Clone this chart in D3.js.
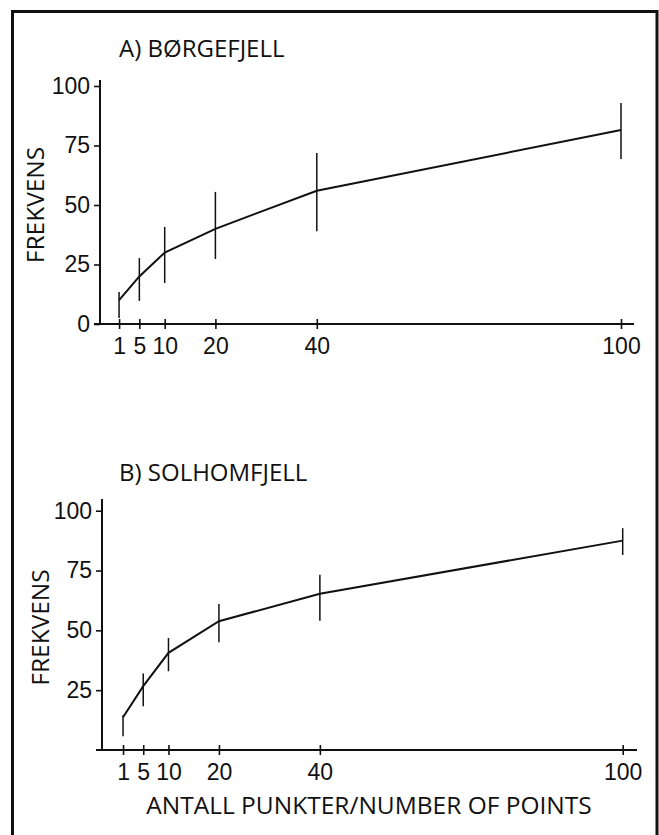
<!DOCTYPE html>
<html>
<head>
<meta charset="utf-8">
<script src="https://cdn.jsdelivr.net/npm/d3@7.9.0/dist/d3.min.js"></script>
<style>
  html, body { margin: 0; padding: 0; background: #fff; }
  svg { display: block; font-family: "Open Sans", sans-serif; }
  .axis text { font-size: 23px; fill: #111; }
  .axis line { stroke: #111; stroke-width: 1.6; }
</style>
</head>
<body>
<div id="chart"></div>
<script>
// Number of points (x) shared by both panels
const points = [1, 5, 10, 20, 40, 100];

// A) Børgefjell: mean frequency and error bar ends
const borgMean = [10, 20, 30, 40, 56, 81.5];
const borgLow = [2.5, 9.7, 17.2, 27.3, 39, 69.3];
const borgHigh = [13.4, 27.7, 40.8, 55.5, 71.8, 92.9];

// B) Solhomfjell
const solhMean = [13.7, 26.7, 40.6, 53.8, 65.3, 87.5];
const solhLow = [5.7, 18.3, 32.9, 45, 54, 81.5];
const solhHigh = [14.5, 32, 46.8, 61, 73.2, 92.7];

const yTicksA = [0, 25, 50, 75, 100];
const yTicksB = [25, 50, 75, 100];
const titles = ["A) BØRGEFJELL", "B) SOLHOMFJELL"];
const yLabel = "FREKVENS";
const xLabel = "ANTALL PUNKTER/NUMBER OF POINTS";

const width = 659;
const height = 835;

const svg = d3
  .select("#chart")
  .append("svg")
  .attr("width", width)
  .attr("height", height);

// frame, open at the bottom like the scanned page
svg
  .append("path")
  .attr("d", "M12.5,835 V11.5 H657 V835")
  .attr("fill", "none")
  .attr("stroke", "#111")
  .attr("stroke-width", 3);

const panels = [
  {
    title: titles[0],
    mean: borgMean, low: borgLow, high: borgHigh,
    yTicks: yTicksA,
    x: [114, 621], y: [324, 86],
    axisX: 100, axisTop: 80, axisRight: 634,
    titleY: 57, yLabelX: 44,
  },
  {
    title: titles[1],
    mean: solhMean, low: solhLow, high: solhHigh,
    yTicks: yTicksB,
    x: [118, 622.7], y: [750, 510.7],
    axisX: 102, axisTop: 499, axisRight: 637,
    titleY: 481, yLabelX: 49,
  },
];

panels.forEach((p) => {
  const xScale = d3.scaleLinear().domain([0, 100]).range(p.x);
  const yScale = d3.scaleLinear().domain([0, 100]).range(p.y);
  const base = p.y[0];
  const g = svg.append("g");

  // axis lines
  g.append("line")
    .attr("x1", p.axisX).attr("x2", p.axisX)
    .attr("y1", p.axisTop).attr("y2", base)
    .attr("stroke", "#111").attr("stroke-width", 2);
  g.append("line")
    .attr("x1", p.axisX - 6).attr("x2", p.axisRight)
    .attr("y1", base).attr("y2", base)
    .attr("stroke", "#111").attr("stroke-width", 2);

  // y axis ticks + labels
  const yAxis = g
    .append("g")
    .attr("class", "axis")
    .attr("transform", `translate(${p.axisX},0)`)
    .call(d3.axisLeft(yScale).tickValues(p.yTicks).tickSize(6).tickPadding(4).tickSizeOuter(0));
  yAxis.select(".domain").remove();

  // x axis ticks (crossing the line) + labels
  const xAxis = g
    .append("g")
    .attr("class", "axis")
    .attr("transform", `translate(0,${base})`)
    .call(d3.axisBottom(xScale).tickValues(points).tickSize(5).tickPadding(9).tickSizeOuter(0));
  xAxis.select(".domain").remove();
  xAxis.selectAll(".tick line").attr("y1", -5);

  // error bars
  g.selectAll(".err")
    .data(points)
    .join("line")
    .attr("class", "err")
    .attr("x1", (d) => xScale(d)).attr("x2", (d) => xScale(d))
    .attr("y1", (d, i) => yScale(p.low[i]))
    .attr("y2", (d, i) => yScale(p.high[i]))
    .attr("stroke", "#111").attr("stroke-width", 1.5);

  // mean line
  const line = d3
    .line()
    .x((d) => xScale(d))
    .y((d, i) => yScale(p.mean[i]));
  g.append("path")
    .datum(points)
    .attr("d", line)
    .attr("fill", "none")
    .attr("stroke", "#111")
    .attr("stroke-width", 2);

  // panel title
  g.append("text")
    .attr("x", 119).attr("y", p.titleY)
    .attr("font-size", 24)
    .attr("fill", "#111")
    .text(p.title);

  // y label
  g.append("text")
    .attr("transform", `translate(${p.yLabelX},${(p.axisTop + base) / 2 + 3}) rotate(-90)`)
    .attr("text-anchor", "middle")
    .attr("font-size", 24.5)
    .attr("fill", "#111")
    .text(yLabel);
});

svg.append("text")
  .attr("x", 369).attr("y", 814)
  .attr("text-anchor", "middle")
  .attr("font-size", 24.5)
  .attr("fill", "#111")
  .text(xLabel);
</script>
</body>
</html>
